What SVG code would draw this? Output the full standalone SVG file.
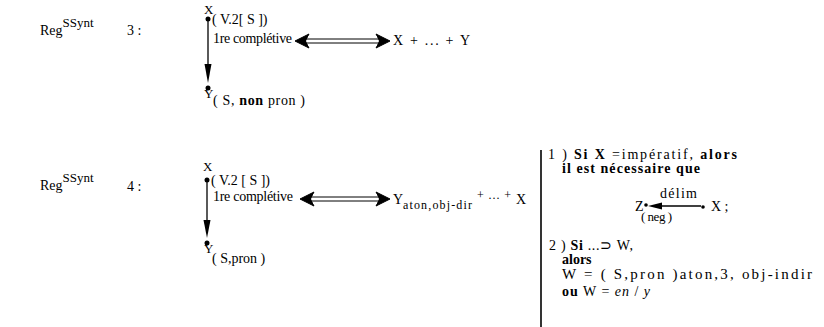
<svg xmlns="http://www.w3.org/2000/svg" width="824" height="327" viewBox="0 0 824 327">
<defs>
<style>
text{font-family:"Liberation Serif","Times New Roman",serif;font-size:14px;fill:#000}
.b{font-weight:bold}
.i{font-style:italic}
.s{font-size:12px}
.sm{font-size:13px}
.ln{stroke:#000;stroke-width:1.3;fill:none}
.dot{fill:#000}
.dbl{fill:#fff;stroke:#000;stroke-width:1}
.hd{fill:#000}
</style>
<g id="dblA">
<path class="dbl" d="M0,0 L14,-7 L11,-2 L84,-2 L81,-7 L95,0 L81,7 L84,2 L11,2 L14,7 Z"/>
<path class="hd" d="M0,0 L14,-7 L11,0 L14,7 Z M95,0 L81,-7 L84,0 L81,7 Z"/>
</g>
<g id="dblB">
<path class="dbl" d="M0,0 L14,-7 L11,-2 L79,-2 L76,-7 L90,0 L76,7 L79,2 L11,2 L14,7 Z"/>
<path class="hd" d="M0,0 L14,-7 L11,0 L14,7 Z M90,0 L76,-7 L79,0 L76,7 Z"/>
</g>
</defs>
<rect width="824" height="327" fill="#fff"/>

<g id="rule3">
<text x="40" y="35">Reg<tspan class="sm" dy="-8">SSynt</tspan></text>
<text x="127" y="35">3 :</text>
</g>
<g id="node-x3">
<text x="204" y="14" class="sm">X</text>
<circle class="dot" cx="208" cy="19" r="2.5"/>
<text x="212" y="24">( V.2[ S ])</text>
</g>
<g id="node-y3">
<circle class="dot" cx="208" cy="88" r="2.5"/>
<text x="204" y="98" class="sm">Y</text>
<text x="213" y="105" textLength="92" lengthAdjust="spacing">( S, <tspan class="b">non</tspan> pron )</text>
</g>
<g id="order3">
<text x="393" y="45" textLength="77" lengthAdjust="spacing">X + ... + Y</text>
</g>

<g id="rule4">
<text x="40" y="190">Reg<tspan class="sm" dy="-8">SSynt</tspan></text>
<text x="127" y="191">4 :</text>
</g>
<g id="node-x4">
<text x="203" y="171" class="sm">X</text>
<circle class="dot" cx="207" cy="180" r="2.5"/>
<text x="211" y="185">( V.2 [ S ])</text>
</g>
<g id="node-y4">
<circle class="dot" cx="207" cy="243" r="2.5"/>
<text x="204" y="253" class="sm">Y</text>
<text x="212" y="263">( S,pron )</text>
</g>
<g id="order4">
<text x="393" y="204">Y</text>
<text x="403" y="209" class="s" textLength="69" lengthAdjust="spacing">aton,obj-dir</text>
<text x="477" y="199" class="s" textLength="34" lengthAdjust="spacing">+ ... +</text>
<text x="516" y="204">X</text>
</g>

<g id="conditions">
<line x1="541" y1="150" x2="541" y2="327" stroke="#000" stroke-width="1.6"/>
<text x="548" y="159" textLength="189" lengthAdjust="spacing">1 ) <tspan class="b">Si X</tspan> =impératif, <tspan class="b">alors</tspan></text>
<text x="562" y="173" class="b" textLength="138" lengthAdjust="spacing">il est nécessaire que</text>
<text x="635" y="211">Z</text>
<circle class="dot" cx="646" cy="205" r="1.8"/>
<text x="660" y="198" textLength="37" lengthAdjust="spacing">délim</text>
<text x="641" y="221" class="sm" textLength="31" lengthAdjust="spacing">( neg )</text>
<circle class="dot" cx="703" cy="207" r="1.8"/>
<text x="711" y="211">X ;</text>
<text x="549" y="250" textLength="84" lengthAdjust="spacing">2 ) <tspan class="b">Si</tspan> ...⊃  W,</text>
<text x="562" y="264" class="b">alors</text>
<text x="562" y="279" style="font-size:15px" textLength="250" lengthAdjust="spacing">W = ( S,pron )aton,3, obj-indir</text>
<text x="562" y="296" textLength="88" lengthAdjust="spacing"><tspan class="b">ou</tspan> W = <tspan class="i">en</tspan> / <tspan class="i">y</tspan></text>
</g>

<g id="connectors">
<line class="ln" x1="208" y1="21" x2="208" y2="66"/>
<path class="hd" d="M204.5,64 L211.5,64 L208,83 Z"/>
<text x="213" y="43" textLength="79" lengthAdjust="spacing">1re complétive</text>
<use href="#dblA" transform="translate(295,41)"/>
<line class="ln" x1="207" y1="182" x2="207" y2="222"/>
<path class="hd" d="M203.5,220 L210.5,220 L207,238 Z"/>
<text x="213" y="201" textLength="80" lengthAdjust="spacing">1re complétive</text>
<use href="#dblB" transform="translate(300,199)"/>
<line class="ln" x1="701" y1="206" x2="660" y2="206"/>
<path class="hd" d="M648,206 L662,202.5 L662,209.5 Z"/>
</g>
</svg>
